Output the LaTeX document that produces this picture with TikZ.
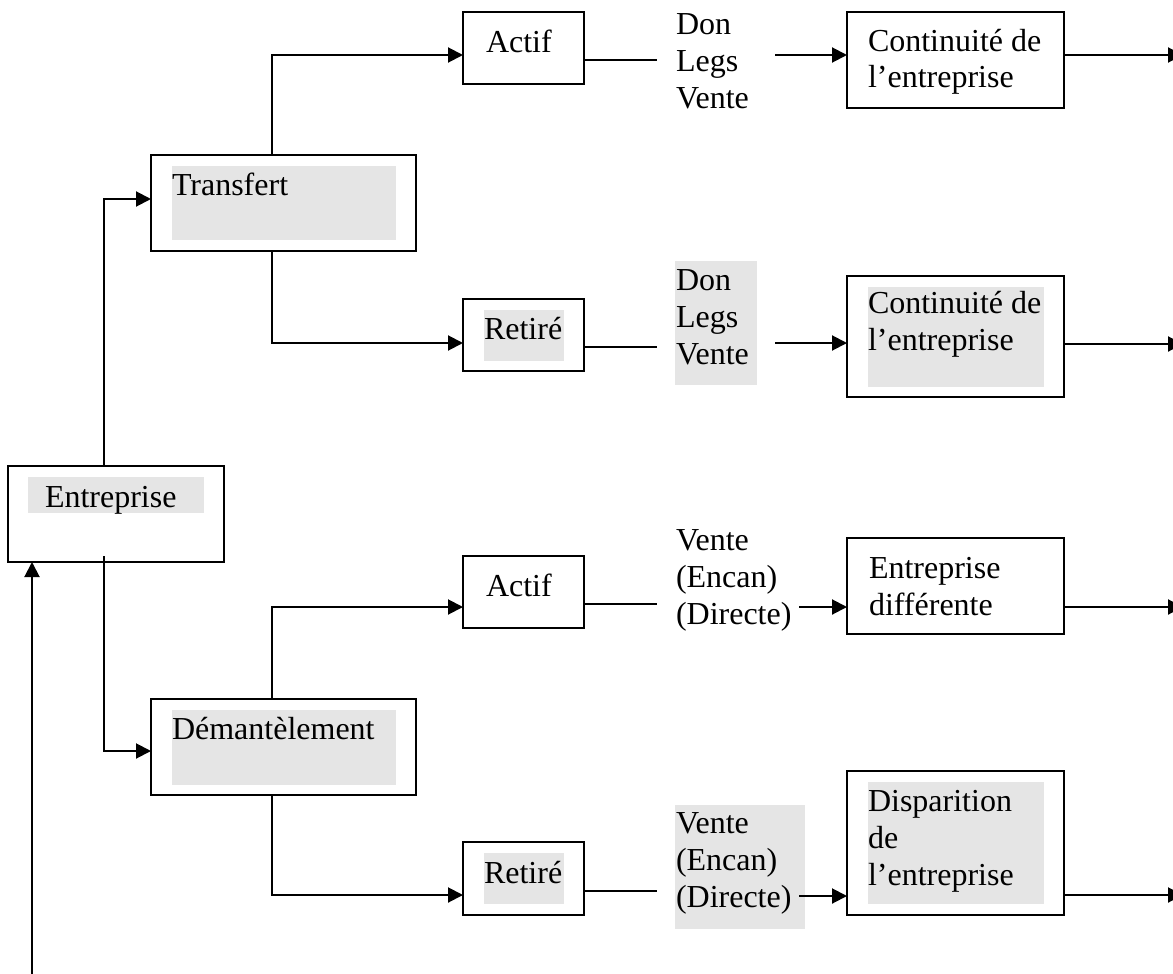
\documentclass[tikz,border=0pt]{standalone}
\usepackage{fontspec}
\setmainfont{Liberation Serif}
\usetikzlibrary{arrows.meta,calc}
\definecolor{hlgray}{HTML}{E5E5E5}
\tikzset{
  frame/.style={draw, line width=2pt, inner sep=0pt, outer sep=0pt},
  stagebox/.style={frame, minimum width=265pt, minimum height=96pt},
  modebox/.style={frame, minimum width=121pt, minimum height=72pt},
  resultbox/.style={frame, minimum width=217pt},
  % base anchor of a multi-line node is the baseline of its last line
  txt/.style={anchor=base west, inner sep=0pt, outer sep=0pt, align=left,
              font=\fontsize{32}{36.8}\selectfont},
  arr/.style={line width=2pt, -{Triangle[length=15pt,width=15pt]}},
  plain/.style={line width=2pt}
}
\begin{document}
\begin{tikzpicture}[x=1pt,y=-1pt]
\useasboundingbox (0,0) rectangle (1173,974);

% shaded text backgrounds
\fill[hlgray] (28,477) rectangle (204,513);
\fill[hlgray] (172,166) rectangle (396,240);
\fill[hlgray] (172,710) rectangle (396,785);
\fill[hlgray] (484,310) rectangle (564,361);
\fill[hlgray] (484,853) rectangle (564,904);
\fill[hlgray] (675,261) rectangle (757,385);
\fill[hlgray] (675,805) rectangle (805,929);
\fill[hlgray] (868,287) rectangle (1044,387);
\fill[hlgray] (868,782) rectangle (1044,904);

% boxes
\node[frame, minimum width=216pt, minimum height=96pt] (ent) at (116,514) {};
\node[stagebox] (trans) at (283.5,203) {};
\node[stagebox] (dem) at (283.5,747) {};
\node[modebox] (act1) at (523.5,48) {};
\node[modebox] (ret1) at (523.5,335) {};
\node[modebox] (act2) at (523.5,592) {};
\node[modebox, minimum height=73pt] (ret2) at (523.5,878.5) {};
\node[resultbox, minimum height=96pt] (cont1) at (955.5,60) {};
\node[resultbox, minimum height=121pt] (cont2) at (955.5,336.5) {};
\node[resultbox, minimum height=96pt] (diff) at (955.5,586) {};
\node[resultbox, minimum height=144pt] (disp) at (955.5,843) {};

% texts
\node[txt] (tEnt) at (45,507) {Entreprise};
\node[txt] (tTrans) at (172,195) {Transfert};
\node[txt] (tDem) at (172,739) {Démantèlement};
\node[txt] (tAct1) at (486,53) {Actif};
\node[txt] (tRet1) at (484,339) {Retiré};
\node[txt] (tAct2) at (486,596) {Actif};
\node[txt] (tRet2) at (484,883) {Retiré};
\node[txt] (m1) at (676,108) {Don\\Legs\\Vente};
\node[txt] (m2) at (676,364) {Don\\Legs\\Vente};
\node[txt] (m3) at (676,624) {Vente\\(Encan)\\(Directe)};
\node[txt] (m4) at (676,907) {Vente\\(Encan)\\(Directe)};
\node[txt] (tCont1) at (868,88) {Continuité de\\l’entreprise};
\node[txt] (tCont2) at (868,350) {Continuité de\\l’entreprise};
\node[txt] (tDiff) at (869,615) {Entreprise\\différente};
\node[txt] (tDisp) at (868,885) {Disparition\\de\\l’entreprise};

% routing columns and free ends
\coordinate (tx) at (104,0);
\coordinate (bx) at (272,0);
\coordinate (ux) at (32,974);
\coordinate (e1) at (657,60);   \coordinate (s1) at (775,55);  \coordinate (o1) at (1183,55);
\coordinate (e2) at (657,347);  \coordinate (s2) at (775,343); \coordinate (o2) at (1183,344);
\coordinate (e3) at (657,604);  \coordinate (s3) at (799,607); \coordinate (o3) at (1183,607);
\coordinate (e4) at (657,891);  \coordinate (s4) at (799,896); \coordinate (o4) at (1183,895);

% connectors from the enterprise
\draw[arr] (ent.north -| tx) |- ($(trans.west)+(0,-4)$);
\draw[arr] ($(ent.south -| tx)+(0,-6)$) |- ($(dem.west)+(0,4)$);
\draw[arr] (ux) -- (ent.south -| ux);

% branches
\draw[arr] (trans.north -| bx) |- ($(act1.west)+(0,7)$);
\draw[arr] (trans.south -| bx) |- ($(ret1.west)+(0,8)$);
\draw[arr] (dem.north -| bx) |- ($(act2.west)+(0,15)$);
\draw[arr] (dem.south -| bx) |- ($(ret2.west)+(0,16.5)$);

% modes to outcomes
\draw[plain] (act1.east |- e1) -- (e1);
\draw[arr] (s1) -- (cont1.west |- s1);
\draw[arr] (cont1.east |- o1) -- (o1);
\draw[plain] (ret1.east |- e2) -- (e2);
\draw[arr] (s2) -- (cont2.west |- s2);
\draw[arr] (cont2.east |- o2) -- (o2);
\draw[plain] (act2.east |- e3) -- (e3);
\draw[arr] (s3) -- (diff.west |- s3);
\draw[arr] (diff.east |- o3) -- (o3);
\draw[plain] (ret2.east |- e4) -- (e4);
\draw[arr] (s4) -- (disp.west |- s4);
\draw[arr] (disp.east |- o4) -- (o4);
\end{tikzpicture}
\end{document}
